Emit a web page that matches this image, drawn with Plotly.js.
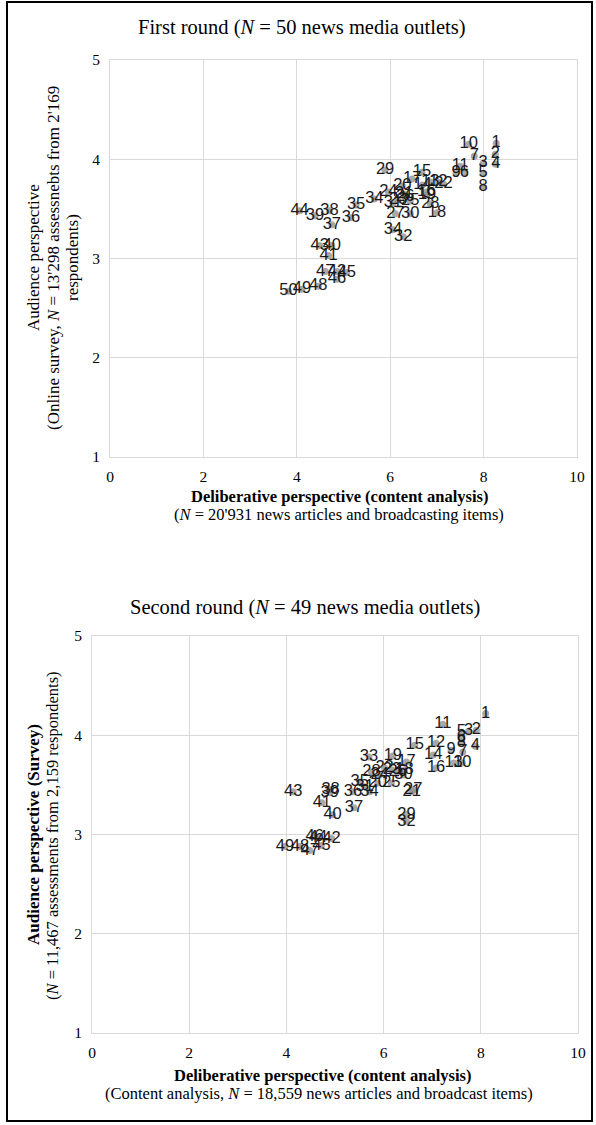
<!DOCTYPE html>
<html>
<head>
<meta charset="utf-8">
<script src="https://cdn.plot.ly/plotly-3.0.1.min.js"></script>
<style>
html,body{margin:0;padding:0;background:#fff;}
#wrap{position:relative;width:596px;height:1125px;}
#chart{width:596px;height:1125px;}
#frame{position:absolute;left:6px;top:1px;width:583px;height:1117px;border:2px solid #000;pointer-events:none;}
</style>
</head>
<body>
<div id="wrap"><div id="chart"></div><div id="frame"></div></div>
<script>
// ---- First round (50 outlets) ----
const labels1 = ["1","2","3","4","5","6","7","8","9","10",
  "11","12","13","14","15","16","17","18","19","20",
  "21","22","23","24","25","26","27","28","29","30",
  "31","32","34","34","35","36","37","38","39","40",
  "41","42","43","44","45","46","47","48","49","50"];
const deliberative1 = [8.27,8.25,7.99,8.26,7.99,7.59,7.80,7.99,7.41,7.68,
  7.50,7.03,6.86,6.69,6.68,6.77,6.47,7.00,6.79,6.26,
  6.30,7.14,6.17,5.96,6.43,6.32,6.11,6.86,5.89,6.43,
  6.06,6.28,5.66,6.06,5.27,5.16,4.75,4.70,4.39,4.75,
  4.68,4.86,4.49,4.06,5.07,4.86,4.61,4.46,4.11,3.82];
const audience1 = [4.16,4.05,3.96,3.95,3.86,3.86,4.03,3.72,3.86,4.15,
  3.93,3.77,3.77,3.74,3.87,3.67,3.80,3.46,3.64,3.73,
  3.65,3.75,3.59,3.67,3.58,3.62,3.45,3.55,3.89,3.45,
  3.56,3.22,3.60,3.29,3.54,3.41,3.34,3.48,3.43,3.13,
  3.03,2.87,3.13,3.48,2.86,2.79,2.87,2.72,2.69,2.67];

// ---- Second round (49 outlets) ----
const labels2 = ["1","2","3","4","5","6","7","8","9","10",
  "11","12","13","14","15","16","17","18","19","20",
  "21","22","23","24","25","26","27","28","29","30",
  "31","32","33","34","35","36","37","38","39","40",
  "41","42","43","44","45","46","47","48","49"];
const deliberative2 = [8.10,7.91,7.75,7.89,7.60,7.60,7.63,7.60,7.39,7.62,
  7.22,7.08,7.44,7.02,6.64,7.08,6.47,6.43,6.19,5.88,
  6.58,6.02,6.17,5.92,6.16,6.29,6.61,5.75,6.47,6.41,
  5.61,6.47,5.70,5.71,5.51,5.37,5.39,4.91,4.89,4.95,
  4.73,4.93,4.14,4.65,4.72,4.58,4.48,4.28,3.97];
const audience2 = [4.22,4.05,4.04,3.89,4.03,3.97,3.83,3.92,3.85,3.72,
  4.11,3.92,3.72,3.80,3.90,3.67,3.73,3.65,3.79,3.52,
  3.43,3.67,3.65,3.60,3.52,3.63,3.45,3.63,3.20,3.60,
  3.48,3.13,3.78,3.43,3.53,3.43,3.27,3.45,3.42,3.20,
  3.32,2.96,3.43,2.97,2.89,2.98,2.84,2.88,2.88];

const xTicks = [0,2,4,6,8,10];
const yTicks = [1,2,3,4,5];

const W = 596, H = 1125;
const px = v => v / W;
const py = v => 1 - v / H;

const SERIF = "Liberation Serif, Times New Roman, serif";
const SANS = "Liberation Sans, Arial, sans-serif";

function trace(x, y, t, xa, ya) {
  return {
    type: "scatter", mode: "markers+text",
    x: x, y: y, text: t, xaxis: xa, yaxis: ya,
    textposition: "middle center",
    textfont: {family: SANS, size: 16.5, color: "#1a1a1a"},
    marker: {size: 7, color: "rgba(140,140,140,0.75)", line: {width: 0}},
    hoverinfo: "skip", showlegend: false, cliponaxis: false
  };
}

const axX = dom => ({
  domain: dom, range: [0, 10], tickvals: xTicks, ticktext: xTicks.map(String),
  showgrid: true, gridcolor: "#d9d9d9", gridwidth: 1, zeroline: false,
  showline: true, mirror: true, linecolor: "#d9d9d9", linewidth: 1,
  ticks: "", ticklabelstandoff: 5,
  tickfont: {family: SERIF, size: 15.5, color: "#000"}, fixedrange: true
});
const axY = dom => ({
  domain: dom, range: [1, 5], tickvals: yTicks, ticktext: yTicks.map(String),
  showgrid: true, gridcolor: "#d9d9d9", gridwidth: 1, zeroline: false,
  showline: true, mirror: true, linecolor: "#d9d9d9", linewidth: 1,
  ticks: "", ticklabelstandoff: 6,
  tickfont: {family: SERIF, size: 15.5, color: "#000"}, fixedrange: true
});

function ann(text, x, y, size, opts) {
  return Object.assign({
    text: text, xref: "paper", yref: "paper", x: px(x), y: py(y),
    xanchor: "center", yanchor: "middle", showarrow: false,
    font: {family: SERIF, size: size, color: "#000"}
  }, opts || {});
}

const layout = {
  width: W, height: H,
  margin: {l: 0, r: 0, t: 0, b: 0},
  paper_bgcolor: "#fff", plot_bgcolor: "#fff",
  xaxis: Object.assign(axX([px(110), px(577)]), {anchor: "y"}),
  yaxis: Object.assign(axY([py(457), py(60)]), {anchor: "x"}),
  xaxis2: Object.assign(axX([px(92), px(578)]), {anchor: "y2"}),
  yaxis2: Object.assign(axY([py(1033), py(636)]), {anchor: "x2"}),
  annotations: [
    ann("First round (<i>N</i> = 50 news media outlets)", 302, 27, 20.5),
    ann("<b>Deliberative perspective (content analysis)</b>", 339, 496, 16.5),
    ann("(<i>N</i> = 20'931 news articles and broadcasting items)", 339, 514, 16.5),
    ann("Audience perspective", 33, 258, 17, {textangle: -90}),
    ann("(Online survey, <i>N</i> = 13'298 assessnebts from 2'169", 53, 258, 17, {textangle: -90}),
    ann("respondents)", 72, 258, 17, {textangle: -90}),

    ann("Second round (<i>N</i> = 49 news media outlets)", 305, 607, 20.5),
    ann("<b>Deliberative perspective (content analysis)</b>", 322, 1075, 16.5),
    ann("(Content analysis, <i>N</i> = 18,559 news articles and broadcast items)", 319, 1093, 16.5),
    ann("<b>Audience perspective (Survey)</b>", 33, 835, 17, {textangle: -90}),
    ann("(<i>N</i> = 11,467 assessments from 2,159 respondents)", 53, 836, 16.5, {textangle: -90})
  ]
};

Plotly.newPlot("chart", [
  trace(deliberative1, audience1, labels1, "x", "y"),
  trace(deliberative2, audience2, labels2, "x2", "y2")
], layout, {displayModeBar: false, staticPlot: true});
</script>
</body>
</html>
